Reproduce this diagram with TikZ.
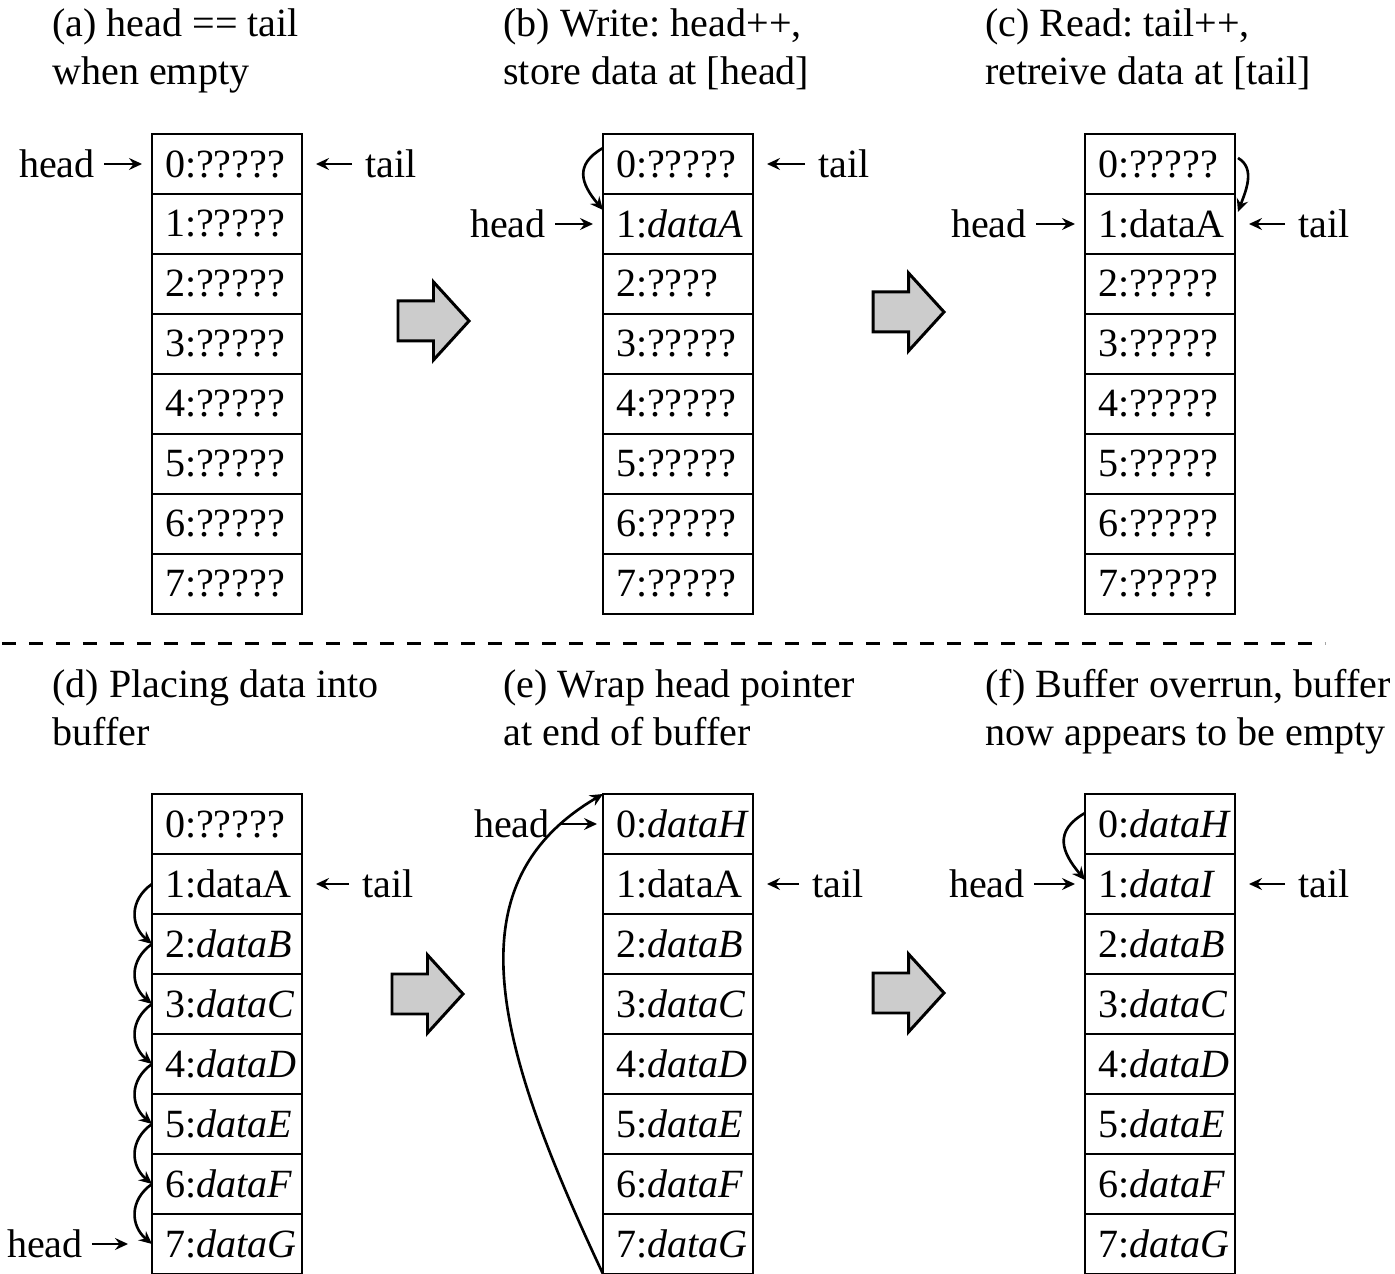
\documentclass[tikz,border=0pt]{standalone}
\usepackage{fontspec}
\setmainfont{Liberation Serif}
\frenchspacing
\usetikzlibrary{arrows.meta,calc,positioning}

\tikzset
{
	cell/.style =
	{
		draw,
		line width		= 1.6pt,
		minimum height	= 1.2cm,
		text width		= 2.48cm,
		inner xsep		= 0.26cm,
		inner ysep		= 0cm,
		outer sep		= 0cm,
		align			= left,
		anchor			= north west
	},
	caption/.style =
	{
		inner sep		= 0cm,
		anchor			= north west,
		align			= left
	},
	tag/.style		= {inner sep = 0cm},
	ptr/.style		=
	{
		-{Stealth[length = 2.6mm, width = 2.4mm, inset = 0.9mm]},
		line width		= 1.5pt
	},
	headptr/.style	= {ptr, shorten < = 0.18cm, shorten > = 0.2cm},
	tailptr/.style	= {ptr, shorten < = 0.26cm, shorten > = 0.28cm},
	bigarrow/.style =
	{
		draw,
		fill			= gray!40,
		line width		= 1.7pt,
		line join		= miter
	}
}

% one buffer of eight slots: name, x and y of its top left corner, contents
\newcommand{\ringbuf}[4]
{
	\foreach \txt [count=\i from 0] in {#4}
	{
		\node[cell] (#1\i) at (#2,#3-1.2*\i) {\i:\txt};
	}
}

\begin{document}
\begin{tikzpicture}[font=\fontsize{22.8}{27.4}\selectfont]
	%
	\useasboundingbox (0,0) rectangle (27.9,25.48);
	%
	% captions
	\node[caption] (capA) at (1.04,25.32)	{(a) head == tail\\when empty};
	\node[caption] (capB) at (10.06,25.32)	{(b) Write: head++,\\store data at [head]};
	\node[caption] (capC) at (19.7,25.32)	{(c) Read: tail++,\\retreive data at [tail]};
	\node[caption] (capD) at (1.04,12.1)	{(d) Placing data into\\buffer};
	\node[caption] (capE) at (10.06,12.1)	{(e) Wrap head pointer\\at end of buffer};
	\node[caption] (capF) at (19.7,12.1)	{(f) Buffer overrun, buffer\\now appears to be empty};
	%
	% the six buffers
	\ringbuf{a}{3.04}{22.8}{?????,?????,?????,?????,?????,?????,?????,?????}
	\ringbuf{b}{12.06}{22.8}{?????,\textit{dataA},????,?????,?????,?????,?????,?????}
	\ringbuf{c}{21.7}{22.8}{?????,dataA,?????,?????,?????,?????,?????,?????}
	\ringbuf{d}{3.04}{9.6}{?????,dataA,\textit{dataB},\textit{dataC},\textit{dataD},\textit{dataE},\textit{dataF},\textit{dataG}}
	\ringbuf{e}{12.06}{9.6}{\textit{dataH},dataA,\textit{dataB},\textit{dataC},\textit{dataD},\textit{dataE},\textit{dataF},\textit{dataG}}
	\ringbuf{f}{21.7}{9.6}{\textit{dataH},\textit{dataI},\textit{dataB},\textit{dataC},\textit{dataD},\textit{dataE},\textit{dataF},\textit{dataG}}
	%
	% head and tail pointers
	\node[tag] (headA) [left=1.14cm of a0]	{head};
	\node[tag] (tailA) [right=1.26cm of a0]	{tail};
	\node[tag] (headB) [left=1.14cm of b1]	{head};
	\node[tag] (tailB) [right=1.3cm of b0]	{tail};
	\node[tag] (headC) [left=1.16cm of c1]	{head};
	\node[tag] (tailC) [right=1.26cm of c1]	{tail};
	\node[tag] (headD) [left=1.38cm of d7]	{head};
	\node[tag] (tailD) [right=1.2cm of d1]	{tail};
	\node[tag] (headE) [left=1.06cm of e0]	{head};
	\node[tag] (tailE) [right=1.18cm of e1]	{tail};
	\node[tag] (headF) [left=1.2cm of f1]	{head};
	\node[tag] (tailF) [right=1.26cm of f1]	{tail};
	%
	\draw[headptr] (headA) -- (a0);
	\draw[headptr] (headB) -- (b1);
	\draw[headptr] (headC) -- (c1);
	\draw[headptr, shorten > = 0.48cm] (headD) -- (d7);
	\draw[headptr, shorten > = 0.12cm] (headE) -- (e0);
	\draw[headptr] (headF) -- (f1);
	\foreach \s/\t in {tailA/a0, tailB/b0, tailC/c1, tailD/d1, tailE/e1, tailF/f1}
		\draw[tailptr] (\s) -- (\t);
	%
	% pointer moves
	\draw[ptr] ([yshift=0.32cm]b0.west) to[out=210, in=130, looseness=1.4] ([yshift=0.28cm]b1.west);
	\draw[ptr] ([shift={(0.06,0.12)}]c0.east) to[out=-30, in=70] ([shift={(0.06,0.24)}]c1.east);
	\foreach \k [count=\n from 2] in {1,...,6}
		\draw[ptr] (d\k.west) to[out=215, in=140, looseness=1.2] (d\n.west);
	\draw[ptr] (e7.south west) .. controls +(-2.16,4.6) and +(-3.06,-1.8) .. (e0.north west);
	\draw[ptr] ([yshift=0.22cm]f0.west) to[out=210, in=130, looseness=1.4] ([yshift=0.08cm]f1.west);
	%
	% step arrows between the buffers
	\foreach \x/\y in {7.96/19.06, 17.46/19.24, 7.84/5.6, 17.46/5.62}
		\draw[bigarrow] (\x,\y+0.4) -- ++(0.71,0) -- ++(0,0.38) -- (\x+1.42,\y)
			-- (\x+0.71,\y-0.78) -- ++(0,0.38) -- (\x,\y-0.4) -- cycle;
	%
	% top and bottom halves
	\draw[line width = 1.7pt, dash pattern = on 0.28cm off 0.26cm] (0.04,12.6) -- (26.5,12.6);
	%
\end{tikzpicture}
\end{document}
